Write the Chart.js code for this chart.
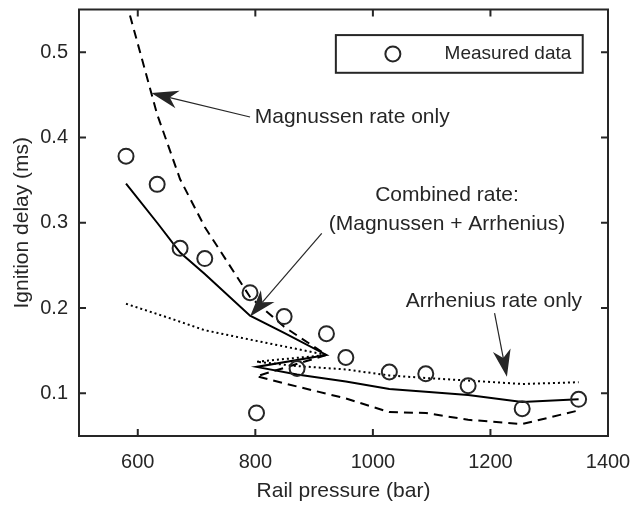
<!DOCTYPE html>
<html>
<head>
<meta charset="utf-8">
<script src="https://cdn.jsdelivr.net/npm/chart.js@4/dist/chart.umd.min.js"></script>
<style>
  body { margin: 0; background: #fff; }
</style>
</head>
<body>
<canvas id="chart" width="634" height="505"></canvas>
<script>
// values, in the order the model curves are joined
const pressure  = [580, 633, 672, 714, 791, 849, 921, 802, 871, 954, 1028, 1090, 1162, 1254, 1350];
const measured  = [0.378, 0.345, 0.270, 0.258, 0.218, 0.190, 0.170, 0.077, 0.129, 0.142, 0.125, 0.123, 0.109, 0.082, 0.093];
const combined  = [0.346, 0.300, 0.265, 0.240, 0.191, 0.171, 0.145, 0.131, 0.122, 0.114, 0.105, 0.102, 0.098, 0.090, 0.093];
const magnussen = [0.560, 0.427, 0.351, 0.295, 0.213, 0.178, 0.145, 0.120, 0.108, 0.094, 0.078, 0.077, 0.069, 0.064, 0.080];
const arrhenius = [0.205, 0.193, 0.184, 0.174, 0.163, 0.155, 0.145, 0.137, 0.132, 0.128, 0.121, 0.118, 0.115, 0.111, 0.113];

const xTicks = [600, 800, 1000, 1200, 1400];
const yTicks = [0.1, 0.2, 0.3, 0.4, 0.5];

// annotation anchors in data units
const notes = [
  { text: 'Magnussen rate only', x: 799, y: 0.424, align: 'left' },
  { text: 'Combined rate:', x: 1126, y: 0.3324, align: 'center' },
  { text: '(Magnussen + Arrhenius)', x: 1126, y: 0.2979, align: 'center' },
  { text: 'Arrhenius rate only', x: 1056, y: 0.2086, align: 'left' },
];
const arrows = [
  { from: [791, 0.424], to: [623, 0.452] },
  { from: [913, 0.2875], to: [791, 0.190] },
  { from: [1207, 0.194], to: [1228, 0.1195] },
];
const legendBox = { x0: 937, x1: 1357, y0: 0.4758, y1: 0.520, markX: 1034, textX: 1122, label: 'Measured data' };

const ink = '#262626';
const family = '"Liberation Sans", Arial, Helvetica, sans-serif';

const pts = vals => pressure.map((p, i) => ({ x: p, y: vals[i] }));

function arrowHead(ctx, x0, y0, x1, y1) {
  const ang = Math.atan2(y1 - y0, x1 - x0);
  const len = 27, half = 9, notch = 19;
  const ux = Math.cos(ang), uy = Math.sin(ang);
  const bx = x1 - ux * len, by = y1 - uy * len;
  const nx = x1 - ux * notch, ny = y1 - uy * notch;
  ctx.beginPath();
  ctx.moveTo(x0, y0);
  ctx.lineTo(nx, ny);
  ctx.lineWidth = 1.2;
  ctx.stroke();
  ctx.beginPath();
  ctx.moveTo(x1, y1);
  ctx.lineTo(bx - uy * half, by + ux * half);
  ctx.lineTo(nx, ny);
  ctx.lineTo(bx + uy * half, by - ux * half);
  ctx.closePath();
  ctx.fill();
}

const frame = {
  id: 'frame',
  afterDatasetsDraw(chart) {
    const { ctx, chartArea: a, scales: { x, y } } = chart;
    ctx.save();
    ctx.strokeStyle = ink;
    ctx.fillStyle = ink;

    // box and inward ticks
    ctx.lineWidth = 2;
    ctx.strokeRect(a.left, a.top, a.right - a.left, a.bottom - a.top);
    ctx.beginPath();
    xTicks.forEach(v => {
      const px = x.getPixelForValue(v);
      ctx.moveTo(px, a.bottom); ctx.lineTo(px, a.bottom - 7);
      ctx.moveTo(px, a.top); ctx.lineTo(px, a.top + 7);
    });
    yTicks.forEach(v => {
      const py = y.getPixelForValue(v);
      ctx.moveTo(a.left, py); ctx.lineTo(a.left + 7, py);
      ctx.moveTo(a.right, py); ctx.lineTo(a.right - 7, py);
    });
    ctx.stroke();

    // legend
    const lx0 = x.getPixelForValue(legendBox.x0), lx1 = x.getPixelForValue(legendBox.x1);
    const ly0 = y.getPixelForValue(legendBox.y1), ly1 = y.getPixelForValue(legendBox.y0);
    ctx.fillStyle = '#fff';
    ctx.fillRect(lx0, ly0, lx1 - lx0, ly1 - ly0);
    ctx.lineWidth = 2;
    ctx.strokeRect(lx0, ly0, lx1 - lx0, ly1 - ly0);
    const my = (ly0 + ly1) / 2;
    ctx.beginPath();
    ctx.arc(x.getPixelForValue(legendBox.markX), my, 7.5, 0, Math.PI * 2);
    ctx.stroke();
    ctx.fillStyle = ink;
    ctx.font = '19px ' + family;
    ctx.textBaseline = 'middle';
    ctx.textAlign = 'left';
    ctx.fillText(legendBox.label, x.getPixelForValue(legendBox.textX), my);

    // text notes
    ctx.font = '21px ' + family;
    notes.forEach(n => {
      ctx.textAlign = n.align;
      ctx.fillText(n.text, x.getPixelForValue(n.x), y.getPixelForValue(n.y));
    });

    // arrows
    arrows.forEach(r => arrowHead(ctx,
      x.getPixelForValue(r.from[0]), y.getPixelForValue(r.from[1]),
      x.getPixelForValue(r.to[0]), y.getPixelForValue(r.to[1])));

    ctx.restore();
  }
};

new Chart(document.getElementById('chart'), {
  type: 'scatter',
  data: {
    datasets: [
      {
        label: 'Measured data',
        data: pts(measured),
        showLine: false,
        pointStyle: 'circle',
        pointRadius: 7.5,
        pointBorderWidth: 2,
        pointBorderColor: ink,
        pointBackgroundColor: 'rgba(0,0,0,0)',
      },
      {
        label: 'Combined rate',
        data: pts(combined),
        showLine: true,
        borderColor: '#000',
        borderWidth: 2,
        pointRadius: 0,
      },
      {
        label: 'Magnussen rate only',
        data: pts(magnussen),
        showLine: true,
        borderColor: '#000',
        borderWidth: 2,
        borderDash: [9, 6],
        pointRadius: 0,
      },
      {
        label: 'Arrhenius rate only',
        data: pts(arrhenius),
        showLine: true,
        borderColor: '#000',
        borderWidth: 2,
        borderDash: [2, 3],
        pointRadius: 0,
      },
    ]
  },
  options: {
    responsive: false,
    animation: false,
    devicePixelRatio: 1,
    layout: { padding: { left: 0, right: 26, top: 9, bottom: 0 } },
    plugins: {
      legend: { display: false },
      tooltip: { enabled: false },
    },
    scales: {
      x: {
        type: 'linear',
        min: 500,
        max: 1400,
        afterFit: s => { s.height = 69; s.paddingLeft = 0; s.paddingRight = 0; },
        afterBuildTicks: s => { s.ticks = xTicks.map(v => ({ value: v })); },
        grid: { display: false, drawTicks: false },
        border: { display: false },
        ticks: {
          color: ink,
          padding: 14,
          maxRotation: 0,
          font: { family, size: 20 },
          callback: v => String(v),
        },
        title: {
          display: true,
          text: 'Rail pressure (bar)',
          color: ink,
          font: { family, size: 21, lineHeight: 1.2 },
          padding: { top: 0, bottom: 1 },
        },
      },
      y: {
        type: 'linear',
        min: 0.05,
        max: 0.55,
        afterFit: s => { s.width = 79; s.paddingTop = 0; s.paddingBottom = 0; },
        afterBuildTicks: s => { s.ticks = yTicks.map(v => ({ value: v })); },
        grid: { display: false, drawTicks: false },
        border: { display: false },
        ticks: {
          color: ink,
          padding: 11,
          font: { family, size: 20 },
          callback: v => v.toFixed(1),
        },
        title: {
          display: true,
          text: 'Ignition delay (ms)',
          color: ink,
          font: { family, size: 21, lineHeight: 1.2 },
          padding: { top: 10, bottom: 0 },
        },
      },
    },
  },
  plugins: [frame],
});
</script>
</body>
</html>
